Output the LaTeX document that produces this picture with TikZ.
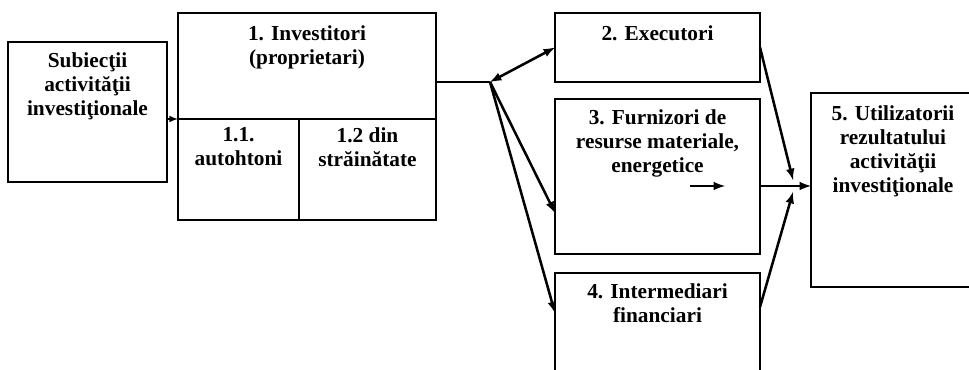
\documentclass[tikz,border=0pt]{standalone}
\usepackage{fontspec}
\setmainfont{Liberation Serif}
\usepackage{tikz}

\begin{document}
\begin{tikzpicture}[x=0.75pt,y=-0.75pt,>=latex]
    \tikzset{
        cutie/.style={draw,line width=0.9pt,anchor=north west,inner sep=0pt,outer sep=0pt},
        eticheta/.style={anchor=north,inner sep=0pt,align=center,
            font=\fontsize{16}{18}\selectfont\bfseries},
        sageata/.style={line width=1.9pt}
    }
    \useasboundingbox (0,0) rectangle (969,370);

    \node [cutie, minimum width=119.25pt, minimum height=105pt]    (S)   at (8,42)    {};
    \node [cutie, minimum width=193.5pt,  minimum height=79.5pt]   (B1)  at (178,13)  {};
    \node [cutie, minimum width=90.75pt,  minimum height=75.75pt]  (B11) at (178,119) {};
    \node [cutie, minimum width=102.75pt, minimum height=75.75pt]  (B12) at (299,119) {};
    \node [cutie, minimum width=153.75pt, minimum height=51.75pt]  (B2)  at (555,13)  {};
    \node [cutie, minimum width=153.75pt, minimum height=116.25pt] (B3)  at (555,99)  {};
    \node [cutie, minimum width=153.75pt, minimum height=84pt]     (B4)  at (555,273) {};
    \node [cutie, minimum width=123pt,    minimum height=145.5pt]  (B5)  at (811,93)  {};

    \node [eticheta] (tS)   at ([yshift=-8pt]S.north)   {Subiecţii\\activităţii\\investiţionale};
    \node [eticheta] (tB1)  at ([yshift=-9pt]B1.north)  {1. Investitori\\(proprietari)};
    \node [eticheta] (tB11) at ([yshift=-6pt]B11.north) {1.1.\\autohtoni};
    \node [eticheta] (tB12) at ([yshift=-6pt]B12.north) {1.2 din\\străinătate};
    \node [eticheta] (tB2)  at ([yshift=-9pt]B2.north)  {2. Executori};
    \node [eticheta] (tB3)  at ([yshift=-8pt]B3.north)  {3. Furnizori de\\resurse materiale,\\energetice};
    \node [eticheta] (tB4)  at ([yshift=-8pt]B4.north)  {4. Intermediari\\financiari};
    \node [eticheta] (tB5)  at ([yshift=-9pt]B5.north)  {5. Utilizatorii\\rezultatului\\activităţii\\investiţionale};

    \coordinate (ram) at (490,82);
    \coordinate (c3)  at (555,213);
    \coordinate (c4)  at (555,313);
    \coordinate (e1)  at (690,186);
    \coordinate (e2)  at (725,186);
    \coordinate (j1)  at (793,180);
    \coordinate (j2)  at (793,192);
    \coordinate (d4)  at (760,307);

    \draw [line width=1.2pt,->] (S.east |- B11.north west) -- (B11.north west);
    \draw [sageata] (B1.east |- ram) -- (ram);
    \draw [sageata,<->] (ram) -- (B2.west);
    \draw [sageata,->] (ram) -- (c3);
    \draw [sageata,->] (ram) -- (c4);
    \draw [sageata,->] (e1) -- (e2);
    \draw [sageata,->] (B3.east |- e1) -- (B5.west |- e1);
    \draw [sageata,->] (B2.east) -- (j1);
    \draw [sageata,->] (d4) -- (j2);
\end{tikzpicture}
\end{document}
